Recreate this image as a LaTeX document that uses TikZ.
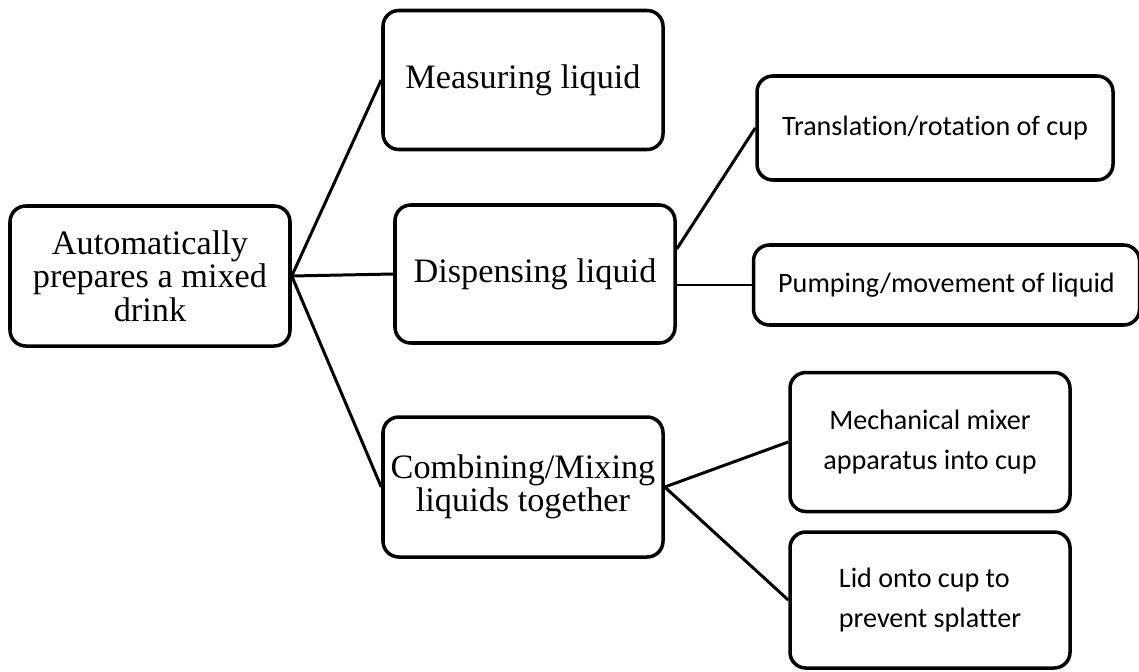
\documentclass[tikz,border=0pt]{standalone}
\usepackage{fontspec}
\setmainfont{Liberation Serif}
\newfontfamily\calibfont[Ligatures=NoCommon]{Carlito}
\usetikzlibrary{positioning}

\begin{document}
\begin{tikzpicture}[
  mainbox/.style={draw, line width=2pt, rounded corners=9pt, minimum width=5.6cm, minimum height=2.8cm, align=center, inner sep=2pt, font=\fontsize{19.5}{19}\selectfont},
  subbox/.style={draw, line width=2pt, rounded corners=9pt, align=center, inner sep=2pt, font=\calibfont\fontsize{16}{22.7}\selectfont},
  link/.style={line width=1.7pt}]
\useasboundingbox (0,0) rectangle (22.78,-13.42);
\node[mainbox] (root) at (3.0,-5.52) {Automatically\\prepares a mixed\\drink};
\node[mainbox, minimum height=2.78cm] (measure) at (10.46,-1.6) {Measuring liquid};
\node[mainbox, minimum height=2.76cm] (dispense) at (10.7,-5.48) {Dispensing liquid};
\node[mainbox] (combine) at (10.46,-9.74) {Combining/Mixing\\liquids together};
\node[subbox, minimum width=7.12cm, minimum height=2.08cm] (turn) at (18.7,-2.56) {Translation/rotation of cup};
\node[subbox, minimum width=7.72cm, minimum height=1.6cm] (pump) at (18.93,-5.7) {Pumping/movement of liquid};
\node[subbox, minimum width=5.6cm, minimum height=2.78cm] (mixer) at (18.6,-8.84) {Mechanical mixer\\apparatus into cup};
\node[subbox, minimum width=5.6cm, minimum height=2.72cm, align=left] (lid) at (18.6,-12.0) {Lid onto cup to\\prevent splatter};
% connectors
\draw[link] (root.east) -- (measure.west);
\draw[link] (root.east) -- (dispense.west);
\draw[link] (root.east) -- (combine.west);
\draw[link] (dispense.10) -- (turn.west);
\draw[link] (pump.west -| dispense.east) -- (pump.west);
\draw[link] (combine.east) -- (mixer.west);
\draw[link] (combine.east) -- (lid.west);
\end{tikzpicture}
\end{document}
